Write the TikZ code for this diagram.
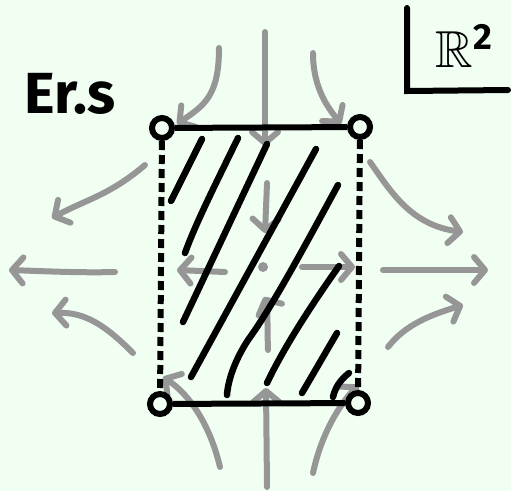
\documentclass[tikz,border=0pt]{standalone}
\usepackage{amssymb}
\usepackage{fontspec}
\setmainfont{Fira Sans}
\usetikzlibrary{arrows.meta}
\definecolor{paper}{RGB}{240,255,242}
\definecolor{flow}{RGB}{150,150,150}

\begin{document}
\begin{tikzpicture}[x=1pt, y=-1pt]
    % Define styles
    \tikzstyle{corner} = [circle, draw=black, line width=6pt, minimum size=20pt, inner sep=0pt, fill=paper]
    \tikzstyle{edge} = [line width=6pt, black]
    \tikzstyle{side} = [line width=6pt, black, dash pattern=on 9pt off 5pt]
    \tikzstyle{hatch} = [line width=6.5pt, black, line cap=round]
    \tikzstyle{flowline} = [line width=6pt, flow, line cap=round, -{Straight Barb[length=11pt, width=26pt, round]}]

    % Background
    \fill[paper] (0,0) rectangle (511,491);

    % Flow
    \draw [flowline] (265,32) -- (265,146);
    \draw [flowline] (219,48) .. controls (219,95) and (205,105) .. (177,124);
    \draw [flowline] (313,53) .. controls (313,90) and (330,110) .. (341,124);
    \draw [flowline] (145,165) .. controls (110,195) and (85,200) .. (52,218);
    \draw [flowline] (115,272) .. controls (80,273) and (40,271) .. (9,270);
    \draw [flowline] (133,353) .. controls (105,325) and (85,312) .. (52,313);
    \draw [flowline] (370,162) .. controls (390,190) and (410,225) .. (463,232);
    \draw [flowline] (383,270) -- (488,270);
    \draw [flowline] (388,347) .. controls (405,325) and (430,315) .. (463,305);
    \draw [flowline] (220,467) .. controls (210,425) and (190,395) .. (163,377);
    \draw [flowline] (267,487) -- (266,388);
    \draw [flowline] (313,473) .. controls (320,440) and (335,410) .. (358,385);
    \draw [flowline] (267,183) -- (265,233);
    \draw [flowline] (268,350) .. controls (267,320) and (268,305) .. (264,297);
    \draw [flowline] (225,272) -- (177,270);
    \draw [flowline] (302,267) -- (355,267);
    \fill[flow] (263,267) circle (5);

    % Hatching
    \draw [hatch] (202,139) -- (171,201);
    \draw [hatch] (238,138) .. controls (215,185) and (195,225) .. (185,253);
    \draw [hatch] (267,144) -- (183,322);
    \draw [hatch] (316,149) -- (191,377);
    \draw [hatch] (338,185) .. controls (300,255) and (270,310) .. (248,340) .. controls (235,360) and (228,380) .. (227,395);
    \draw [hatch] (339,266) .. controls (315,300) and (285,345) .. (267,383);
    \draw [hatch] (337,333) -- (302,393);
    \draw [hatch] (349,373) .. controls (340,380) and (335,388) .. (333,397);

    % Nodes
    \node (tl) [corner] at (162,128) {};
    \node (tr) [corner] at (360,127) {};
    \node (bl) [corner] at (160,404) {};
    \node (br) [corner] at (358,403) {};

    % Edges
    \draw [edge] (tl) -- (tr);
    \draw [edge] (bl) -- (br);
    \draw [side] (tl) -- (bl);
    \draw [side] (tr) -- (br);

    % Labels
    \node (ers) [font=\fontsize{58}{58}\selectfont\bfseries, inner sep=0pt] at (70,94) {Er.s};
    \node (space) [inner sep=0pt] at (465,46) {\scalebox{5.2}{$\mathbb{R}^{\mathbf{2}}$}};
    \draw [line width=6pt, line cap=round] (407,8) -- (407,91) -- (508,90);
\end{tikzpicture}
\end{document}
